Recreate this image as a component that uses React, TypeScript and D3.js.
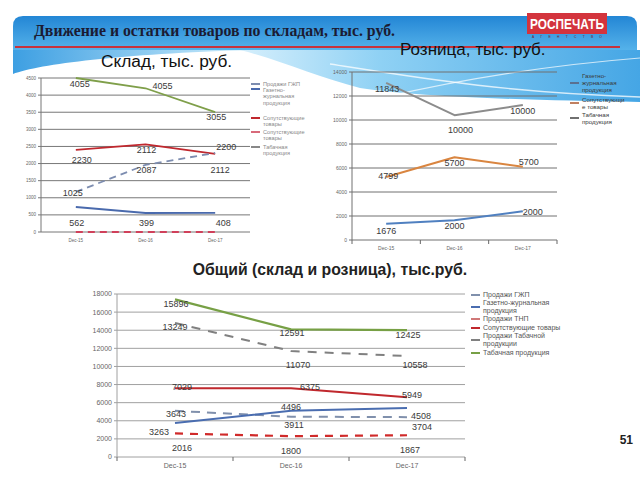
import React from "react";
import * as d3 from "d3";

const categories = ["Dec-15", "Dec-16", "Dec-17"];

// ---- Склад ----
const skladTicks = [0, 500, 1000, 1500, 2000, 2500, 3000, 3500, 4000, 4500];
const skladTabak = [4500, 4200, 3500];
const skladTabakLabels = ["4055", "4055", "3055"];
const skladSoput = [2400, 2560, 2280];
const skladSoputLabels = ["2230", "2112", "2200"];
const skladGzhpSales = [1170, 1960, 2310];
const skladGzhpSalesLabels = ["1025", "2087", "2112"];
const skladGzh = [730, 555, 560];
const skladGzhLabels = ["562", "399", "408"];
const skladTnpSales = [0, 0, 0];
const skladLegend = ["Продажи ГЖП", "Газетно-\nжурнальная\nпродукция", "Сопутствующие\nтовары", "Сопутствующие\nтовары", "Табачная\nпродукция"];

// ---- Розница ----
const roznTicks = [0, 2000, 4000, 6000, 8000, 10000, 12000, 14000];
const roznTabak = [13100, 10400, 11250];
const roznTabakLabels = ["11843", "10000", "10000"];
const roznSoput = [5250, 6900, 6100];
const roznSoputLabels = ["4799", "5700", "5700"];
const roznGzh = [1350, 1650, 2400];
const roznGzhLabels = ["1676", "2000", "2000"];
const roznLegend = ["Газетно-\nжурнальная\nпродукция", "Сопутствующи\nе товары", "Табачная\nпродукция"];

// ---- Общий ----
const totalTicks = [0, 2000, 4000, 6000, 8000, 10000, 12000, 14000, 16000, 18000];
const totalGzhpSales = [5100, 4450, 4400];
const totalGzhpSalesLabels = ["3643", "3911", "3704"];
const totalGzh = [3750, 5100, 5400];
const totalGzhLabels = ["3263", "4496", "4508"];
const totalTnpSales = [2600, 2300, 2400];
const totalTnpSalesLabels = ["2016", "1800", "1867"];
const totalSoput = [7600, 7600, 6600];
const totalSoputLabels = ["7029", "6375", "5949"];
const totalTabakSales = [14800, 11700, 11150];
const totalTabakSalesLabels = ["13249", "11070", "10558"];
const totalTabak = [17400, 14100, 14000];
const totalTabakLabels = ["15896", "12591", "12425"];
const totalLegend = ["Продажи ГЖП", "Газетно-журнальная\nпродукция", "Продажи ТНП", "Сопутствующие товары", "Продажи Табачной\nпродукции", "Табачная продукция"];

const FONT = "'Liberation Sans', Arial, sans-serif";

type Series = {
  values: number[];
  labels?: string[];
  color: string;
  width: number;
  dash?: string;
  offsets?: number[][];
};

type Frame = { left: number; right: number; top: number; bottom: number };

function Chart(props: {
  frame: Frame;
  yMax: number;
  ticks: number[];
  series: Series[];
  tickFont: number;
  xLabelY: number;
  yLabelX: number;
  gridColor: string;
  bandTicks: boolean;
}) {
  const { frame, yMax, ticks, series, tickFont, xLabelY, yLabelX, gridColor, bandTicks } = props;
  const x = d3.scaleBand<string>().domain(categories).range([frame.left, frame.right]).padding(0);
  const y = d3.scaleLinear().domain([0, yMax]).range([frame.bottom, frame.top]);
  const cx = (i: number) => (x(categories[i]) as number) + x.bandwidth() / 2;
  const line = d3
    .line<number>()
    .x((_, i) => cx(i))
    .y((v) => y(v));
  const bounds = [frame.left, ...categories.map((c) => (x(c) as number) + x.bandwidth())];
  return (
    <g>
      {ticks.map((t) => (
        <g key={t}>
          <line x1={frame.left} x2={frame.right} y1={y(t)} y2={y(t)} stroke={gridColor} strokeWidth={1} />
          <line x1={frame.left - 3} x2={frame.left} y1={y(t)} y2={y(t)} stroke={gridColor} strokeWidth={1} />
          <text x={yLabelX} y={y(t)} dy="0.35em" textAnchor="end" fontSize={tickFont} fill="#666" fontFamily={FONT}>
            {t}
          </text>
        </g>
      ))}
      <line x1={frame.left} x2={frame.left} y1={frame.top} y2={frame.bottom} stroke={gridColor} strokeWidth={1} />
      {bandTicks &&
        bounds.map((b, i) => (
          <line key={i} x1={b} x2={b} y1={frame.bottom} y2={frame.bottom + 4} stroke="#666" strokeWidth={1} />
        ))}
      {categories.map((c, i) => (
        <text key={c} x={cx(i)} y={xLabelY} textAnchor="middle" fontSize={tickFont} fill="#666" fontFamily={FONT}>
          {c}
        </text>
      ))}
      {series.map((s, si) => (
        <path
          key={si}
          d={line(s.values) as string}
          fill="none"
          stroke={s.color}
          strokeWidth={s.width}
          strokeDasharray={s.dash}
          strokeLinejoin="round"
        />
      ))}
      {series.map((s, si) =>
        (s.labels || []).map((lab, i) => (
          <text
            key={si + "-" + i}
            x={cx(i) + (s.offsets ? s.offsets[i][0] : 0)}
            y={y(s.values[i]) + (s.offsets ? s.offsets[i][1] : 0)}
            dy="0.35em"
            textAnchor="middle"
            fontSize={9}
            fill="#3a3a3a"
            fontFamily={FONT}
          >
            {lab}
          </text>
        ))
      )}
    </g>
  );
}

function Legend(props: {
  names: string[];
  colors: string[];
  markerY: number[];
  firstY: number[];
  lineH: number;
  mx: number;
  fontSize: number;
  fill: string;
}) {
  const { names, colors, markerY, firstY, lineH, mx, fontSize, fill } = props;
  return (
    <g>
      {names.map((n, i) => (
        <g key={i}>
          <line x1={mx} x2={mx + 9} y1={markerY[i]} y2={markerY[i]} stroke={colors[i]} strokeWidth={2} />
          {n.split("\n").map((t, j) => (
            <text key={j} x={mx + 12} y={firstY[i] + j * lineH} dy="0.35em" fontSize={fontSize} fill={fill} fontFamily={FONT}>
              {t}
            </text>
          ))}
        </g>
      ))}
    </g>
  );
}

export default function App() {
  const skladSeries: Series[] = [
    { values: skladTabak, labels: skladTabakLabels, color: "#7f9f4a", width: 1.8, offsets: [[4, 6], [17, -2], [1, 5]] },
    { values: skladSoput, labels: skladSoputLabels, color: "#c0282e", width: 1.8, offsets: [[6, 10], [1, 5], [11, -7]] },
    { values: skladGzhpSales, labels: skladGzhpSalesLabels, color: "#7d8db0", width: 1.8, dash: "7,5", offsets: [[-3, 1], [1, 5], [5, 17]] },
    { values: skladGzh, labels: skladGzhLabels, color: "#4a6aad", width: 1.8, offsets: [[1, 16], [1, 10], [8, 10]] },
    { values: skladTnpSales, color: "#d0405a", width: 2.2, dash: "7,5" },
  ];
  const roznSeries: Series[] = [
    { values: roznTabak, labels: roznTabakLabels, color: "#8c8c8c", width: 2, offsets: [[1, 6], [6, 15], [0, 6]] },
    { values: roznSoput, labels: roznSoputLabels, color: "#d98540", width: 2, offsets: [[2, -1], [0, 6], [6, -5]] },
    { values: roznGzh, labels: roznGzhLabels, color: "#5080c0", width: 2, offsets: [[0, 7], [0, 6], [10, 1]] },
  ];
  const totalSeries: Series[] = [
    { values: totalGzhpSales, labels: totalGzhpSalesLabels, color: "#8090ac", width: 2, dash: "9,7", offsets: [[1, 3], [3, 8], [15, 10]] },
    { values: totalGzh, labels: totalGzhLabels, color: "#4a6db0", width: 2, offsets: [[-16, 9], [0, -4], [14, 8]] },
    { values: totalTnpSales, labels: totalTnpSalesLabels, color: "#d02a2a", width: 2.2, dash: "8,7", offsets: [[7, 14], [0, 15], [3, 15]] },
    { values: totalSoput, labels: totalSoputLabels, color: "#c0282d", width: 2, offsets: [[7, -1], [19, -1], [5, -2]] },
    { values: totalTabakSales, labels: totalTabakSalesLabels, color: "#808080", width: 2, dash: "9,8", offsets: [[0, 4], [7, 14], [8, 9]] },
    { values: totalTabak, labels: totalTabakLabels, color: "#77a045", width: 2.2, offsets: [[1, 4], [1, 4], [1, 5]] },
  ];

  return (
    <div style={{ position: "absolute", left: 0, top: 0, width: 640, height: 480 }}>
      <svg width={640} height={480} style={{ display: "block", background: "#fff" }}>
        <defs>
          <linearGradient id="banner" x1="0" y1="0" x2="0" y2="1">
            <stop offset="0%" stopColor="#2386d5" />
            <stop offset="100%" stopColor="#55b2ea" />
          </linearGradient>
          <linearGradient id="wave" x1="0" y1="0" x2="1" y2="0">
            <stop offset="0%" stopColor="#d6effc" />
            <stop offset="35%" stopColor="#8fd1f4" />
            <stop offset="100%" stopColor="#45a6e5" />
          </linearGradient>
          <linearGradient id="swl" x1="0" y1="0" x2="1" y2="0">
            <stop offset="0%" stopColor="#3d9fe2" />
            <stop offset="100%" stopColor="#cfeefc" />
          </linearGradient>
        </defs>

        {/* background */}
        <path d="M240,50 C280,60 320,78 360,88 C420,97 520,100 640,102 L640,50 Z" fill="url(#wave)" />
        <path d="M13,50 L13,74 C40,64 120,54 250,50 Z" fill="url(#swl)" />
        <path d="M13,26 Q13,16 23,16 L627,16 Q637,16 637,26 L637,50 L13,50 Z" fill="url(#banner)" />
        <path d="M330,64 C420,78 500,92 640,97" fill="none" stroke="#fff" strokeWidth={1.4} opacity={0.75} />
        <path d="M385,97 C450,82 540,66 640,58" fill="none" stroke="#fff" strokeWidth={1.2} opacity={0.7} />

        {/* header */}
        <text x={34} y={36} fontFamily="'Liberation Serif', 'Times New Roman', serif" fontWeight="bold" fontSize={15.8} fill="#1b1b33">
          Движение и остатки товаров по складам, тыс. руб.
        </text>
        <line x1={15} x2={620} y1={47} y2={47} stroke="#c8323c" strokeWidth={2} />
        <rect x={527} y={13} width={80} height={21} fill="#d3343d" />
        <text x={530} y={29} fontFamily={FONT} fontWeight="bold" fontSize={15} fill="#fff" textLength={74} lengthAdjust="spacingAndGlyphs">
          РОСПЕЧАТЬ
        </text>
        <text x={532} y={38.3} fontFamily={FONT} fontSize={3.4} fill="#7a1a2a" textLength={70} lengthAdjust="spacing">
          АГЕНТСТВО
        </text>

        <text x={101} y={67} fontFamily={FONT} fontSize={17.3} fill="#111">
          Склад, тыс. руб.
        </text>
        <text x={400} y={54.5} fontFamily={FONT} fontSize={17} fill="#111">
          Розница, тыс. руб.
        </text>

        <Chart
          frame={{ left: 41, right: 250, top: 78, bottom: 232 }}
          yMax={4500}
          ticks={skladTicks}
          series={skladSeries}
          tickFont={4.5}
          xLabelY={242}
          yLabelX={36}
          gridColor="#777"
          bandTicks={false}
        />
        <Legend
          names={skladLegend}
          colors={["#7d8db0", "#4a6aad", "#c0282e", "#d86a7a", "#888"]}
          markerY={[84, 89, 118, 132, 147]}
          firstY={[84, 90, 118, 132, 147]}
          lineH={6.5}
          mx={251}
          fontSize={5.6}
          fill="#888"
        />

        <Chart
          frame={{ left: 352, right: 557, top: 72, bottom: 240 }}
          yMax={14000}
          ticks={roznTicks}
          series={roznSeries}
          tickFont={5}
          xLabelY={250}
          yLabelX={347}
          gridColor="#707070"
          bandTicks={true}
        />
        <Legend
          names={roznLegend}
          colors={["#5a7090", "#c08060", "#707070"]}
          markerY={[83, 103, 118]}
          firstY={[76, 100, 115]}
          lineH={7}
          mx={570}
          fontSize={6.2}
          fill="#3a3a3a"
        />

        <text x={330} y={275} textAnchor="middle" fontFamily={FONT} fontWeight="bold" fontSize={15.8} fill="#222">
          Общий (склад и розница), тыс.руб.
        </text>
        <Chart
          frame={{ left: 117, right: 465, top: 294, bottom: 457 }}
          yMax={18000}
          ticks={totalTicks}
          series={totalSeries}
          tickFont={7}
          xLabelY={468}
          yLabelX={112}
          gridColor="#a0a0a0"
          bandTicks={true}
        />
        <Legend
          names={totalLegend}
          colors={["#8090ac", "#4a6db0", "#d07878", "#c0282d", "#808080", "#77a045"]}
          markerY={[295, 307, 319, 328, 340, 353]}
          firstY={[295, 303, 319, 328, 336, 353]}
          lineH={8}
          mx={471}
          fontSize={7}
          fill="#555"
        />

        <text x={633} y={444} textAnchor="end" fontFamily={FONT} fontWeight="bold" fontSize={12} fill="#222">
          51
        </text>
      </svg>
    </div>
  );
}
